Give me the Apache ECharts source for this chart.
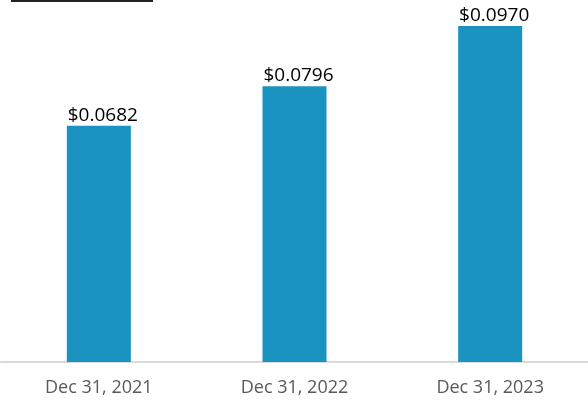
<!DOCTYPE html>
<html>
<head>
<meta charset="utf-8">
<script src="https://cdn.jsdelivr.net/npm/echarts@6/dist/echarts.min.js"></script>
<style>
  html, body { margin: 0; padding: 0; background: #fff; }
  #chart { width: 588px; height: 401px; }
</style>
</head>
<body>
<div id="chart"></div>
<script>
// chart data
var categories = ["Dec 31, 2021", "Dec 31, 2022", "Dec 31, 2023"];
var values = [0.0682, 0.0796, 0.0970];

var myChart = echarts.init(document.getElementById("chart"));
myChart.setOption({
  animation: false,
  textStyle: { fontFamily: "Open Sans" },
  grid: { left: 1, right: 0, top: 0, bottom: 39 },
  // short black rule at the top left
  graphic: [{
    type: "line",
    shape: { x1: 11, y1: 1, x2: 153, y2: 1 },
    style: { stroke: "#222", lineWidth: 2 }
  }],
  xAxis: {
    type: "category",
    data: categories,
    axisLine: { lineStyle: { color: "#d9d9d9", width: 2 } },
    axisTick: { show: false },
    axisLabel: { color: "#595959", fontSize: 18, margin: 17 }
  },
  yAxis: {
    type: "value",
    min: 0,
    max: 0.1045,
    show: false,
    splitLine: { show: false }
  },
  series: [{
    type: "bar",
    data: values,
    barWidth: 64,
    itemStyle: { color: "#1b93c1" },
    label: {
      show: true,
      position: "top",
      distance: 1,
      offset: [4, 0],
      color: "#000",
      fontSize: 19,
      formatter: function (p) { return "$" + p.value.toFixed(4); }
    }
  }]
});
</script>
</body>
</html>
